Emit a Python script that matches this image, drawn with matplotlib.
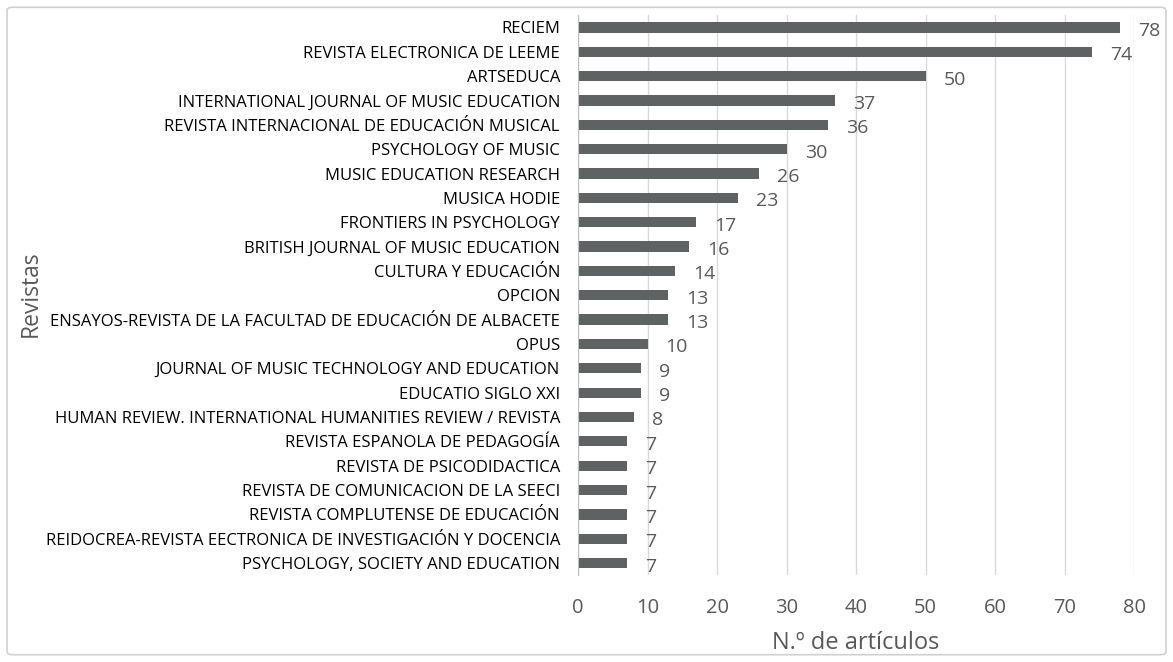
import matplotlib.pyplot as plt
from matplotlib.patches import FancyBboxPatch

revistas = [
    "RECIEM",
    "REVISTA ELECTRONICA DE LEEME",
    "ARTSEDUCA",
    "INTERNATIONAL JOURNAL OF MUSIC EDUCATION",
    "REVISTA INTERNACIONAL DE EDUCACIÓN MUSICAL",
    "PSYCHOLOGY OF MUSIC",
    "MUSIC EDUCATION RESEARCH",
    "MUSICA HODIE",
    "FRONTIERS IN PSYCHOLOGY",
    "BRITISH JOURNAL OF MUSIC EDUCATION",
    "CULTURA Y EDUCACIÓN",
    "OPCION",
    "ENSAYOS-REVISTA DE LA FACULTAD DE EDUCACIÓN DE ALBACETE",
    "OPUS",
    "JOURNAL OF MUSIC TECHNOLOGY AND EDUCATION",
    "EDUCATIO SIGLO XXI",
    "HUMAN REVIEW. INTERNATIONAL HUMANITIES REVIEW / REVISTA",
    "REVISTA ESPANOLA DE PEDAGOGÍA",
    "REVISTA DE PSICODIDACTICA",
    "REVISTA DE COMUNICACION DE LA SEECI",
    "REVISTA COMPLUTENSE DE EDUCACIÓN",
    "REIDOCREA-REVISTA EECTRONICA DE INVESTIGACIÓN Y DOCENCIA",
    "PSYCHOLOGY, SOCIETY AND EDUCATION",
]
articulos = [78, 74, 50, 37, 36, 30, 26, 23, 17, 16, 14, 13, 13, 10, 9, 9, 8, 7, 7, 7, 7, 7, 7]
x_ticks = [0, 10, 20, 30, 40, 50, 60, 70, 80]

plt.rcParams['font.family'] = ['Open Sans', 'DejaVu Sans']

fig = plt.figure(figsize=(11.73, 6.62), dpi=100)
ax = fig.add_axes([0.4928, 0.131, 0.474, 0.846])

pos = list(range(len(revistas)))
ax.barh(pos, articulos, height=0.42, color='#5f6262')
ax.set_ylim(len(revistas) - 0.5, -0.5)
ax.set_xlim(0, 80)
ax.set_xticks(x_ticks)
ax.set_yticks(pos)
ax.set_yticklabels(revistas, fontsize=12, color='black')
ax.tick_params(axis='x', labelsize=14.5, labelcolor='#595959', length=0, pad=16)
ax.tick_params(axis='y', length=0, pad=13)

ax.grid(axis='x', color='#d9d9d9', linewidth=1)
ax.set_axisbelow(True)
for s in ['top', 'right', 'bottom']:
    ax.spines[s].set_visible(False)
ax.spines['left'].set_color('#bfbfbf')

# etiquetas de valor
for p, v in zip(pos, articulos):
    ax.annotate(str(v), (v, p), xytext=(13, -2.5), textcoords='offset points',
                va='center', ha='left', fontsize=14, color='#595959')

ax.set_xlabel('N.º de artículos', fontsize=17, color='#595959', labelpad=10)
fig.text(0.026, 0.556, 'Revistas', rotation=90, fontsize=16.5, color='#595959',
         ha='center', va='center')

border = FancyBboxPatch((0.006, 0.011), 0.988, 0.978, boxstyle='round,pad=0,rounding_size=0.005',
                        transform=fig.transFigure, fill=False, edgecolor='#d0d0d0', linewidth=1.2)
fig.patches.append(border)

fig.savefig('out.png', dpi=100)
